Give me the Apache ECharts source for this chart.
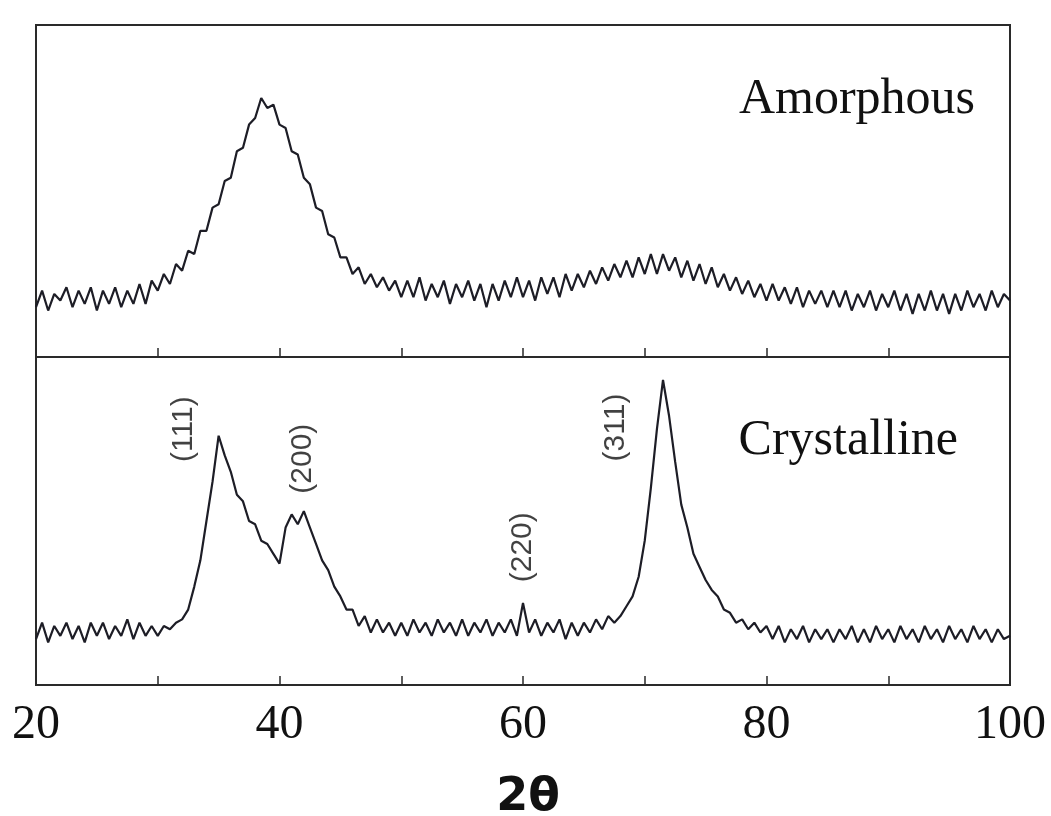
<!DOCTYPE html>
<html>
<head>
<meta charset="utf-8">
<script src="https://cdn.jsdelivr.net/npm/echarts@6/dist/echarts.min.js"></script>
<style>
    html, body { margin:0; padding:0; background:#fff; }
    #main_chart { width:1051px; height:816px; }
</style>
</head>
<body>
<div id="main_chart"></div>
<script>
    // 2theta sampling of the scans
    var twoThetaStart = 20;
    var twoThetaStep = 0.5;

    // intensity, arbitrary units (0-100 per panel)
    var amorphous = [
        15,20,14,19,17,21,15,20,16,21,
        14,20,16,21,15,20,16,22,16,23,
        20,25,22,28,26,32,31,38,38,45,
        46,53,54,62,63,70,72,78,75,76,
        70,69,62,61,54,52,45,44,37,36,
        30,30,25,27,22,25,21,24,20,23,
        18,23,18,24,17,22,18,23,16,22,
        18,23,17,22,15,22,17,23,18,24,
        18,23,17,24,19,24,18,25,20,25,
        21,26,22,27,23,28,24,29,24,30,
        25,31,25,31,26,30,24,29,23,28,
        22,27,21,25,20,24,19,23,18,22,
        17,22,17,21,16,21,15,20,16,20,
        15,20,15,20,14,19,15,20,14,19,
        15,20,14,19,13,19,14,20,14,19,
        13,19,14,20,15,19,14,20,15,19,
        17
    ];
    var crystalline = [
        14,19,13,18,15,19,14,18,13,19,
        15,19,14,18,15,20,14,19,15,18,
        15,18,17,19,20,23,30,38,50,62,
        76,70,65,58,56,50,49,44,43,40,
        37,48,52,49,53,48,43,38,35,30,
        27,23,23,18,21,16,20,16,19,15,
        19,15,20,16,19,15,20,16,19,15,
        20,15,19,16,20,15,19,16,20,15,
        25,16,20,15,19,16,20,14,19,15,
        19,16,20,17,21,19,21,24,27,33,
        44,60,78,93,82,68,55,48,40,36,
        32,29,27,23,22,19,20,17,19,16,
        18,14,18,13,17,14,18,13,17,14,
        17,13,17,14,18,13,17,13,18,14,
        17,13,18,14,17,13,18,14,17,13,
        18,14,17,13,18,14,17,13,17,14,
        15
    ];

    var tickLabels = [20, 40, 60, 80, 100];
    var panelNames = ['Amorphous', 'Crystalline'];
    var peakNames = ['(111)', '(200)', '(220)', '(311)'];
    var peakLabelX = [32.1, 41.9, 60.0, 67.6];
    var peakLabelY = [78, 69, 42, 78.5];

    var toPairs = function(arr){
        var out = [];
        for(var i = 0; i < arr.length; i++){
            out.push([twoThetaStart + i * twoThetaStep, arr[i]]);
        }
        return out;
    };

    var lineColor = '#1d1d26';
    var frameColor = '#2a2a2a';

    var makeX = function(idx, withLabels){
        return {
            gridIndex: idx,
            type: 'value',
            min: 20, max: 100, interval: 10,
            axisLine: { show: true, onZero: false, lineStyle: { color: frameColor, width: 2 } },
            axisTick: { show: true, inside: true, length: 9, lineStyle: { color: frameColor, width: 1.5 } },
            splitLine: { show: false },
            axisLabel: {
                show: withLabels,
                margin: 16,
                color: '#111',
                fontFamily: 'Liberation Serif',
                fontSize: 48,
                formatter: function(v){
                    return tickLabels.indexOf(v) >= 0 ? String(v) : '';
                }
            },
            name: withLabels ? '2θ' : '',
            nameLocation: 'middle',
            nameGap: 90,
            nameTextStyle: {
                fontFamily: 'DejaVu Sans', fontWeight: 'bold', fontSize: 46, color: '#111',
                padding: [0, 0, 0, 10]
            }
        };
    };

    var makeY = function(idx){
        return {
            gridIndex: idx,
            type: 'value',
            min: 0, max: 100,
            axisLine: { show: true, lineStyle: { color: frameColor, width: 2 } },
            axisTick: { show: false },
            axisLabel: { show: false },
            splitLine: { show: false }
        };
    };

    var peakData = [];
    for(var k = 0; k < peakNames.length; k++){
        peakData.push({ name: peakNames[k], value: [peakLabelX[k], peakLabelY[k]] });
    }

    var chartOpt = {
        backgroundColor: '#fff',
        animation: false,
        title: [
            { text: panelNames[0], right: 76, top: 75, padding: 0,
              textStyle: { fontFamily: 'Liberation Serif', fontWeight: 'normal', fontSize: 50, color: '#111' } },
            { text: panelNames[1], right: 93, top: 416, padding: 0,
              textStyle: { fontFamily: 'Liberation Serif', fontWeight: 'normal', fontSize: 50, color: '#111' } }
        ],
        grid: [
            { left: 36, top: 25, width: 974, height: 332, show: true, borderColor: frameColor, borderWidth: 2,
              outerBoundsMode: 'none', containLabel: false },
            { left: 36, top: 357, width: 974, height: 328, show: true, borderColor: frameColor, borderWidth: 2,
              outerBoundsMode: 'none', containLabel: false }
        ],
        xAxis: [ makeX(0, false), makeX(1, true) ],
        yAxis: [ makeY(0), makeY(1) ],
        series: [
            {
                name: panelNames[0], type: 'line', xAxisIndex: 0, yAxisIndex: 0,
                showSymbol: false, data: toPairs(amorphous),
                lineStyle: { color: lineColor, width: 2.2 }
            },
            {
                name: panelNames[1], type: 'line', xAxisIndex: 1, yAxisIndex: 1,
                showSymbol: false, data: toPairs(crystalline),
                lineStyle: { color: lineColor, width: 2.2 }
            },
            {
                type: 'scatter', xAxisIndex: 1, yAxisIndex: 1,
                symbolSize: 1, itemStyle: { color: 'transparent' },
                data: peakData,
                label: {
                    show: true, position: 'inside', rotate: 90,
                    formatter: '{b}',
                    fontFamily: 'Liberation Sans', fontSize: 30, color: '#111'
                }
            }
        ]
    };

    var main_chart = echarts.init(document.getElementById('main_chart'));
    main_chart.setOption(chartOpt);
</script>
</body>
</html>
